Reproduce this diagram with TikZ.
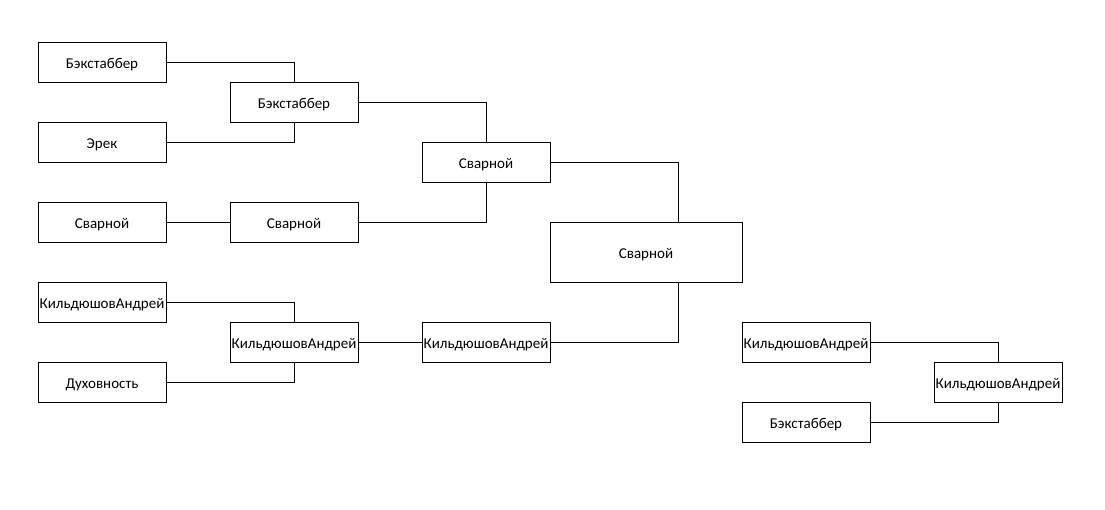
\documentclass[tikz,border=0pt]{standalone}
\usepackage{fontspec}
\setmainfont{Carlito}
\usetikzlibrary{positioning}
\tikzset{
  playerbox/.style={rectangle,draw=black,fill=white,line width=1pt,
    minimum width=128pt,minimum height=40pt,inner sep=1pt,
    text height=14pt,text depth=2pt,font=\fontsize{15}{17}\selectfont},
  finalbox/.style={playerbox,minimum width=192pt,minimum height=60pt},
  link/.style={draw=black,line width=1pt}
}
\begin{document}
\begin{tikzpicture}[x=1pt,y=-1pt]
  \useasboundingbox[fill=white] (0,0) rectangle (1105,509);
  % first round
  \node[playerbox] (b1) at (102,62) {Бэкстаббер};
  \node[playerbox] (b2) at (102,142) {Эрек};
  \node[playerbox] (b3) at (102,222) {Сварной};
  \node[playerbox] (b4) at (102,302) {КильдюшовАндрей};
  \node[playerbox] (b5) at (102,382) {Духовность};
  % second round
  \node[playerbox] (c1) at (294,102) {Бэкстаббер};
  \node[playerbox] (c2) at (294,222) {Сварной};
  \node[playerbox] (c3) at (294,342) {КильдюшовАндрей};
  % third round
  \node[playerbox] (d1) at (486,162) {Сварной};
  \node[playerbox] (d2) at (486,342) {КильдюшовАндрей};
  % final
  \node[finalbox] (e) at (646,252) {Сварной};
  % lower bracket
  \node[playerbox] (f1) at (806,342) {КильдюшовАндрей};
  \node[playerbox] (f2) at (806,422) {Бэкстаббер};
  \node[playerbox] (g) at (998,382) {КильдюшовАндрей};
  \draw[link] (b1.east) -| (c1.north);
  \draw[link] (b2.east) -| (c1.south);
  \draw[link] (b3) -- (c2);
  \draw[link] (b4.east) -| (c3.north);
  \draw[link] (b5.east) -| (c3.south);
  \draw[link] (c1.east) -| (d1.north);
  \draw[link] (c2.east) -| (d1.south);
  \draw[link] (c3) -- (d2);
  \draw[link] (d1.east) -| ([xshift=32pt]e.north);
  \draw[link] (d2.east) -| ([xshift=32pt]e.south);
  \draw[link] (f1.east) -| (g.north);
  \draw[link] (f2.east) -| (g.south);
\end{tikzpicture}
\end{document}
